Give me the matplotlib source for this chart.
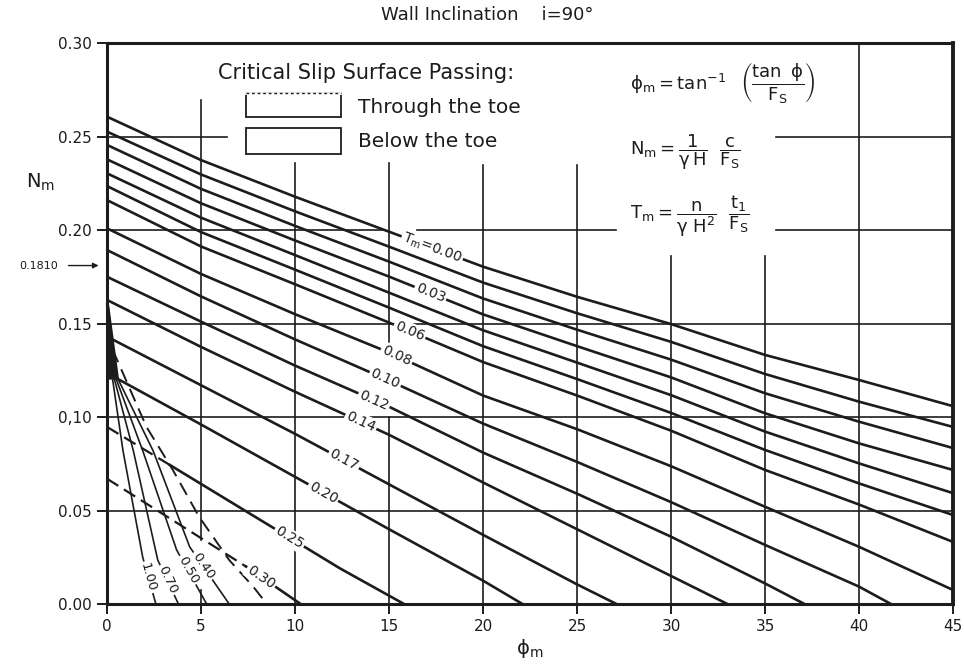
import matplotlib

matplotlib.use("Agg")
import matplotlib.pyplot as plt
import numpy as np
from matplotlib.patches import Rectangle

plt.rcParams["font.family"] = ["DejaVu Sans"]
plt.rcParams["mathtext.default"] = "regular"

INK = "#1c1c1c"

# Tm curves that run across the full phi_m range
PHI_GRID = [0, 5, 10, 15, 20, 25, 30, 35, 40, 45]
TM_UPPER = ["0.00", "0.01", "0.02", "0.03", "0.04", "0.05", "0.06", "0.08"]
NM_UPPER = [
    [0.2606, 0.2374, 0.2178, 0.1991, 0.1804, 0.1643, 0.1497, 0.1332, 0.1198, 0.1058],
    [0.2526, 0.2297, 0.2100, 0.1911, 0.1719, 0.1555, 0.1402, 0.1230, 0.1082, 0.0947],
    [0.2455, 0.2220, 0.2022, 0.1831, 0.1634, 0.1467, 0.1307, 0.1127, 0.0975, 0.0834],
    [0.2378, 0.2143, 0.1944, 0.1751, 0.1549, 0.1379, 0.1212, 0.1020, 0.0859, 0.0717],
    [0.2303, 0.2066, 0.1866, 0.1665, 0.1464, 0.1291, 0.1117, 0.0922, 0.0752, 0.0593],
    [0.2235, 0.1989, 0.1788, 0.1585, 0.1379, 0.1203, 0.1022, 0.0824, 0.0645, 0.0476],
    [0.2160, 0.1912, 0.1710, 0.1505, 0.1294, 0.1115, 0.0927, 0.0717, 0.0532, 0.0332],
    [0.2009, 0.1765, 0.1550, 0.1345, 0.1115, 0.0935, 0.0737, 0.0520, 0.0306, 0.0075],
]

# Tm curves that run out on the phi_m axis
TM_LOWER = ["0.10", "0.12", "0.14", "0.17", "0.20", "0.25", "0.30"]
PHI_LOWER = [
    [0, 5, 10, 15, 20, 25, 30, 35, 40, 41.7],
    [0, 5, 10, 15, 20, 25, 30, 35, 37.1],
    [0, 5, 10, 15, 20, 25, 30, 33.0],
    [0, 5, 10, 15, 20, 25, 27.1],
    [0, 5, 10, 15, 20, 22.1],
    [0, 3.35, 8.8, 12.4, 15.8],
    [0, 7.4, 10.3],
]
NM_LOWER = [
    [0.1893, 0.1645, 0.1415, 0.1195, 0.0965, 0.0760, 0.0545, 0.0316, 0.0093, 0.0],
    [0.1750, 0.1510, 0.1275, 0.1055, 0.0810, 0.0590, 0.0360, 0.0110, 0.0],
    [0.1626, 0.1375, 0.1135, 0.0905, 0.0650, 0.0400, 0.0150, 0.0],
    [0.1430, 0.1170, 0.0910, 0.0640, 0.0370, 0.0105, 0.0],
    [0.1235, 0.0960, 0.0680, 0.0400, 0.0125, 0.0],
    [0.0947, 0.0743, 0.0410, 0.0190, 0.0],
    [0.0670, 0.0200, 0.0],
]
# number of leading segments drawn dashed (slip surface through the toe)
DASHED_SEGMENTS = {"0.25": 1, "0.30": 1}

# steep curves close to the wall
TM_FAN = ["0.40", "0.50", "0.70", "1.00"]
PHI_FAN = [
    [0.0, 0.6, 2.45, 4.4, 6.5],
    [0.0, 0.5, 1.9, 3.7, 5.3],
    [0.0, 0.4, 1.4, 2.7, 3.8],
    [0.0, 0.3, 0.85, 1.9, 2.6],
]
NM_FAN = [
    [0.165, 0.120, 0.082, 0.0305, 0.0],
    [0.165, 0.120, 0.082, 0.0290, 0.0],
    [0.165, 0.120, 0.082, 0.0235, 0.0],
    [0.165, 0.120, 0.082, 0.0250, 0.0],
]

# limit between toe and below-toe slip surfaces
PHI_TOE = [0.3, 2.1, 3.5, 4.9, 6.5, 7.8, 8.5]
NM_TOE = [0.136, 0.0947, 0.0717, 0.0466, 0.0235, 0.009, 0.0]

# where each curve carries its inline label
LABEL_PHI = {
    "0.00": 17.3, "0.03": 17.2, "0.06": 16.1, "0.08": 15.4, "0.10": 14.8,
    "0.12": 14.2, "0.14": 13.5, "0.17": 12.6, "0.20": 11.5, "0.25": 9.7,
    "0.30": 8.2, "0.40": 5.1, "0.50": 4.3, "0.70": 3.2, "1.00": 2.2,
}

X_TICKS = [0, 5, 10, 15, 20, 25, 30, 35, 40, 45]
Y_TICKS = [0.00, 0.05, 0.10, 0.15, 0.20, 0.25, 0.30]
Y_TICK_LABELS = ["0.00", "0.05", "0,10", "0.15", "0.20", "0.25", "0.30"]
NM_MARKED = 0.1810

# grid drawn as broken segments so it clears the key and the formulas
V_GRID = {
    5: [(0.2695, 0.034), (0.0075, 0.0)],
    10: [(0.236, 0.0)],
    15: [(0.236, 0.140), (0.100, 0.0)],
    20: [(0.235, 0.0)],
    25: [(0.235, 0.0)],
    30: [(0.186, 0.0)],
    35: [(0.186, 0.0)],
    40: [(0.30, 0.0)],
}
H_GRID = {
    0.25: [(0, 6.4), (35.6, 45)],
    0.20: [(0, 14.8), (16.5, 27.1), (35.6, 45)],
    0.15: [(0, 45)],
    0.10: [(0, 45)],
    0.05: [(0, 45)],
}


def inline_label(ax, xs, ys, x0, text, size):
    y0 = np.interp(x0, xs, ys)
    dx = 0.3
    p1 = ax.transData.transform((x0 - dx, np.interp(x0 - dx, xs, ys)))
    p2 = ax.transData.transform((x0 + dx, np.interp(x0 + dx, xs, ys)))
    ang = np.degrees(np.arctan2(p2[1] - p1[1], p2[0] - p1[0]))
    ax.text(x0, y0, text, rotation=ang, rotation_mode="anchor",
            ha="center", va="center", fontsize=size, color=INK, zorder=5,
            bbox=dict(fc="white", ec="none", pad=1.2))


fig = plt.figure(figsize=(9.64, 6.70), dpi=100)
ax = fig.add_axes([0.111, 0.0985, 0.8776, 0.8373])
ax.set_xlim(0, 45)
ax.set_ylim(0, 0.30)

for x, spans in V_GRID.items():
    for y0, y1 in spans:
        ax.plot([x, x], [y0, y1], color=INK, lw=1.2, zorder=1)
for y, spans in H_GRID.items():
    for x0, x1 in spans:
        ax.plot([x0, x1], [y, y], color=INK, lw=1.2, zorder=1)

for tm, nm in zip(TM_UPPER, NM_UPPER):
    ax.plot(PHI_GRID, nm, color=INK, lw=1.9, zorder=2, solid_capstyle="butt")
    if tm in LABEL_PHI:
        txt = "T$_{m}$=0.00" if tm == "0.00" else tm
        inline_label(ax, PHI_GRID, nm, LABEL_PHI[tm], txt, 10)

for tm, phi, nm in zip(TM_LOWER, PHI_LOWER, NM_LOWER):
    k = DASHED_SEGMENTS.get(tm, 0)
    if k:
        ax.plot(phi[:k + 1], nm[:k + 1], color=INK, lw=1.6, ls=(0, (6, 3)), zorder=2)
    ax.plot(phi[k:], nm[k:], color=INK, lw=1.9, zorder=2)
    inline_label(ax, phi, nm, LABEL_PHI[tm], tm, 10)

for tm, phi, nm in zip(TM_FAN, PHI_FAN, NM_FAN):
    ax.plot(phi, nm, color=INK, lw=1.2, zorder=2)
    inline_label(ax, phi, nm, LABEL_PHI[tm], tm, 9.5)

# the fan curves merge into a dark wedge against the wall
wedge_x = PHI_FAN[0][:2] + [PHI_FAN[0][0]]
wedge_y = NM_FAN[0][:2] + [NM_FAN[0][1]]
ax.fill(wedge_x, wedge_y, color=INK, lw=0, zorder=2)

ax.plot(PHI_TOE, NM_TOE, color=INK, lw=1.4, ls=(0, (7, 4)), zorder=2)

# axes frame and ticks
for side in ["left", "bottom", "top"]:
    ax.spines[side].set_linewidth(2.2)
ax.spines["right"].set_linewidth(2.8)
for s in ax.spines.values():
    s.set_color(INK)
ax.set_xticks(X_TICKS)
ax.set_xticklabels([str(v) for v in X_TICKS])
ax.set_yticks(Y_TICKS)
ax.set_yticklabels(Y_TICK_LABELS)
ax.tick_params(direction="out", length=7, width=1.4, color=INK,
               labelsize=11, labelcolor=INK, pad=4)

ax.set_xlabel(r"$\phi_{m}$", fontsize=14, color=INK, labelpad=2)
fig.text(0.042, 0.728, "N$_{m}$", fontsize=14, color=INK, ha="center", va="center")
fig.text(0.505, 0.977, "Wall Inclination    i=90°", fontsize=13, color=INK,
         ha="center", va="center")

# marked value on the Nm axis
ax.annotate("", xy=(-0.3, NM_MARKED), xytext=(-2.2, NM_MARKED),
            annotation_clip=False,
            arrowprops=dict(arrowstyle="-|>", color=INK, lw=1.0, mutation_scale=8))
ax.text(-2.6, NM_MARKED, "0.1810", fontsize=8, color=INK, ha="right", va="center")

# key for the slip-surface line types
ax.text(13.8, 0.284, "Critical Slip Surface Passing:", fontsize=15, color=INK,
        ha="center", va="center")
ax.add_patch(Rectangle((7.4, 0.2604), 5.05, 0.0129, fc="white", ec=INK, lw=1.3, zorder=3))
ax.plot([7.4, 12.45], [0.2733, 0.2733], color="white", lw=2.0, zorder=4)
ax.plot([7.4, 12.45], [0.2733, 0.2733], color=INK, lw=1.0, ls=(0, (2, 2)), zorder=4)
ax.add_patch(Rectangle((7.4, 0.2406), 5.05, 0.0139, fc="white", ec=INK, lw=1.3, zorder=3))
ax.text(13.35, 0.2655, "Through the toe", fontsize=14.5, color=INK, ha="left", va="center")
ax.text(13.35, 0.2475, "Below the toe", fontsize=14.5, color=INK, ha="left", va="center")

# definitions of the dimensionless groups
ax.text(27.8, 0.279, r"$\phi_{m} = \tan^{-1}\ \ \left(\dfrac{\tan\ \phi}{F_{S}}\right)$",
        fontsize=13, color=INK, ha="left", va="center")
ax.text(27.8, 0.2417, r"$N_{m} = \dfrac{1}{\gamma\, H}\ \ \dfrac{c}{F_{S}}$",
        fontsize=13, color=INK, ha="left", va="center")
ax.text(27.8, 0.2075, r"$T_{m} = \dfrac{n}{\gamma\ H^{2}}\ \ \dfrac{t_{1}}{F_{S}}$",
        fontsize=13, color=INK, ha="left", va="center")

fig.savefig("out.png", dpi=100, facecolor="white")
